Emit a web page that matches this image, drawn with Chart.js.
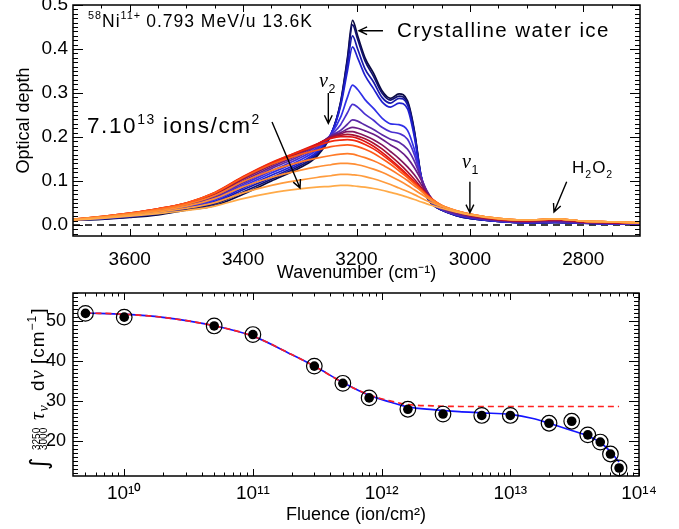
<!DOCTYPE html>
<html><head><meta charset="utf-8">
<script src="https://cdn.jsdelivr.net/npm/chart.js@4/dist/chart.umd.min.js"></script>
<style>
html,body{margin:0;padding:0;background:#fff;}
#wrap{position:relative;width:679px;height:529px;overflow:hidden;}
#c1{position:absolute;left:0;top:0;width:679px;height:285px;}
#c2{position:absolute;left:0;top:284px;width:679px;height:245px;}
</style></head><body>
<div id="wrap"><canvas id="c1" width="679" height="285"></canvas><canvas id="c2" width="679" height="245"></canvas></div>
<script>
// ---------------- DATA: top panel (optical depth spectra) ----------------
const wavenumber = [3700,3650,3600,3550,3500,3450,3400,3350,3300,3270,3245,3228,3216,3207,3198,3185,3170,3155,3140,3125,3110,3098,3087,3076,3066,3050,3025,3000,2950,2900,2850,2800,2750,2700];
const od_5e9    = [0.011,0.013,0.017,0.023,0.034,0.044,0.07,0.1,0.13,0.156,0.205,0.28,0.38,0.465,0.43,0.38,0.345,0.305,0.288,0.298,0.282,0.215,0.118,0.064,0.047,0.034,0.022,0.015,0.008,0.005,0.006,0.004,0.003,0.002];
const od_1e10   = [0.011,0.014,0.018,0.025,0.036,0.048,0.075,0.104,0.134,0.16,0.205,0.278,0.375,0.455,0.422,0.373,0.338,0.3,0.284,0.293,0.278,0.212,0.117,0.064,0.047,0.034,0.022,0.015,0.008,0.005,0.006,0.004,0.003,0.002];
const od_5e10   = [0.012,0.014,0.019,0.026,0.038,0.051,0.08,0.108,0.138,0.163,0.206,0.275,0.365,0.43,0.4,0.355,0.325,0.29,0.277,0.288,0.273,0.208,0.116,0.065,0.047,0.034,0.022,0.015,0.008,0.005,0.006,0.004,0.003,0.002];
const od_1e11   = [0.012,0.015,0.02,0.027,0.039,0.054,0.084,0.113,0.142,0.166,0.207,0.27,0.35,0.405,0.38,0.34,0.31,0.28,0.268,0.277,0.264,0.2,0.115,0.066,0.048,0.035,0.023,0.016,0.008,0.005,0.006,0.004,0.003,0.002];
const od_3e11   = [0.012,0.015,0.021,0.029,0.041,0.057,0.088,0.118,0.147,0.171,0.206,0.245,0.29,0.318,0.308,0.285,0.265,0.243,0.23,0.228,0.215,0.172,0.115,0.07,0.051,0.036,0.024,0.017,0.009,0.006,0.007,0.005,0.003,0.003];
const od_5e11   = [0.012,0.016,0.022,0.03,0.043,0.06,0.092,0.123,0.152,0.175,0.204,0.228,0.255,0.274,0.268,0.252,0.238,0.222,0.212,0.208,0.195,0.16,0.113,0.075,0.054,0.036,0.024,0.017,0.009,0.006,0.007,0.005,0.003,0.003];
const od_8e11   = [0.012,0.016,0.023,0.032,0.045,0.063,0.096,0.128,0.157,0.179,0.203,0.215,0.229,0.239,0.236,0.227,0.217,0.205,0.195,0.188,0.172,0.145,0.11,0.078,0.057,0.037,0.025,0.018,0.01,0.007,0.008,0.005,0.004,0.003];
const od_1p6e12 = [0.012,0.017,0.024,0.033,0.046,0.066,0.1,0.132,0.161,0.181,0.202,0.21,0.218,0.222,0.22,0.214,0.206,0.195,0.182,0.17,0.152,0.13,0.105,0.077,0.058,0.039,0.027,0.019,0.011,0.007,0.009,0.006,0.004,0.003];
const od_3e12   = [0.012,0.018,0.025,0.035,0.048,0.069,0.104,0.136,0.164,0.183,0.2,0.207,0.212,0.212,0.209,0.203,0.194,0.182,0.167,0.151,0.132,0.114,0.094,0.073,0.058,0.042,0.03,0.022,0.012,0.009,0.012,0.007,0.005,0.004];
const od_6e12   = [0.012,0.018,0.026,0.036,0.049,0.071,0.107,0.139,0.166,0.183,0.199,0.204,0.206,0.205,0.202,0.196,0.186,0.173,0.157,0.14,0.121,0.104,0.087,0.07,0.057,0.042,0.03,0.022,0.012,0.009,0.012,0.007,0.005,0.004];
const od_1e13   = [0.012,0.019,0.027,0.037,0.05,0.073,0.109,0.141,0.168,0.184,0.197,0.201,0.201,0.2,0.197,0.19,0.179,0.165,0.149,0.132,0.114,0.098,0.083,0.068,0.056,0.043,0.031,0.023,0.013,0.01,0.013,0.008,0.006,0.004];
const od_2e13   = [0.013,0.019,0.027,0.037,0.05,0.074,0.11,0.142,0.167,0.18,0.19,0.193,0.194,0.193,0.19,0.183,0.173,0.16,0.145,0.129,0.112,0.097,0.083,0.069,0.058,0.044,0.032,0.024,0.014,0.011,0.014,0.009,0.007,0.005];
const od_3e13   = [0.013,0.019,0.027,0.037,0.05,0.073,0.108,0.138,0.16,0.17,0.178,0.181,0.182,0.181,0.178,0.172,0.163,0.151,0.138,0.123,0.108,0.094,0.081,0.068,0.058,0.045,0.033,0.025,0.015,0.011,0.014,0.009,0.007,0.005];
const od_4e13   = [0.013,0.019,0.026,0.035,0.047,0.067,0.099,0.124,0.143,0.152,0.158,0.161,0.162,0.161,0.158,0.153,0.146,0.137,0.126,0.114,0.101,0.089,0.078,0.066,0.057,0.045,0.033,0.025,0.015,0.011,0.014,0.009,0.007,0.005];
const od_5e13   = [0.012,0.018,0.024,0.032,0.043,0.06,0.087,0.108,0.124,0.132,0.137,0.14,0.14,0.139,0.137,0.133,0.127,0.12,0.111,0.101,0.09,0.08,0.071,0.062,0.054,0.044,0.033,0.025,0.015,0.011,0.014,0.009,0.007,0.005];
const od_6e13   = [0.012,0.017,0.022,0.029,0.038,0.051,0.073,0.09,0.102,0.108,0.112,0.115,0.115,0.114,0.113,0.11,0.105,0.099,0.092,0.084,0.076,0.069,0.062,0.055,0.05,0.042,0.032,0.024,0.015,0.011,0.014,0.009,0.007,0.005];
const od_7e13   = [0.011,0.015,0.02,0.026,0.033,0.043,0.06,0.073,0.082,0.086,0.088,0.09,0.09,0.089,0.088,0.086,0.083,0.079,0.074,0.069,0.063,0.058,0.053,0.048,0.044,0.038,0.03,0.023,0.014,0.011,0.014,0.009,0.007,0.005];
const spectra = [od_5e9,od_1e10,od_5e10,od_1e11,od_3e11,od_5e11,od_8e11,od_1p6e12,od_3e12,od_6e12,od_1e13,od_2e13,od_3e13,od_4e13,od_5e13,od_6e13,od_7e13];
const wnTicks = [3600,3400,3200,3000,2800];
const odTicks = [0.0,0.1,0.2,0.3,0.4,0.5];

// ---------------- DATA: bottom panel (integrated band vs fluence) ----------------
const fluence    = [5e9,1e10,5e10,1e11,3e11,5e11,8e11,1.6e12,3e12,6e12,1e13,2e13,3e13,4e13,5e13,6e13,7e13];
const bandArea   = [51.9,50.95,48.75,46.6,38.7,34.4,30.75,27.9,26.7,26.35,26.35,24.4,24.9,21.5,19.7,16.7,13.2];
const fitFluence = [5e9,1e10,2e10,5e10,1e11,2e11,3e11,5e11,8e11,1.2e12,1.6e12,2.5e12,4e12,6e12,1e13,1.5e13,2e13,3e13,4e13,5e13,6e13,7e13];
const fitTwoComp = [52.0,51.7,50.9,48.8,46.2,41.6,38.7,34.6,31.4,29.6,28.5,27.8,27.3,27.0,26.6,25.6,24.4,22.6,21.2,19.6,17.3,14.7];
const fitOneComp = [52.0,51.7,50.9,48.8,46.2,41.6,38.7,34.6,31.5,29.9,29.1,28.75,28.6,28.6,28.6,28.6,28.6,28.6,28.6,28.6,28.6,28.6];
const fluenceTicks = [1e10,1e11,1e12,1e13,1e14];
const fluenceTickLabels = ['10¹⁰','10¹¹','10¹²','10¹³','10¹⁴'];
const areaTicks = [20,30,40,50];

// ---------------- styles ----------------
const SANS = '"Liberation Sans", Arial, Helvetica, sans-serif';
const SERIF = '"Liberation Serif", "Times New Roman", serif';
const spectrumColors = ['#0a0a40','#10106e','#1818a8','#2020d0','#3030e8','#4a30d0','#5a2aa8','#6a1e88','#82165e','#a81030','#dc1414','#f02a10','#ff5a18','#ff7a28','#ff8e34','#ff9c3e','#ffaa48'];

function drawRich(ctx, x, y, parts, size, family, spacing) {
  ctx.save();
  ctx.fillStyle = '#000';
  ctx.textAlign = 'left';
  ctx.textBaseline = 'alphabetic';
  try { ctx.letterSpacing = (spacing || 0) + 'px'; } catch (e) {}
  let cx = x;
  for (const p of parts) {
    let fs = size, dy = 0;
    if (p.k === 'sup') { fs = size * 0.62; dy = -size * 0.42; }
    if (p.k === 'sub') { fs = size * 0.62; dy = size * 0.3; }
    ctx.font = (p.style || '') + ' ' + fs + 'px ' + (p.family || family);
    ctx.fillText(p.t, cx, y + dy);
    cx += ctx.measureText(p.t).width + (p.gap || 0);
  }
  ctx.restore();
}
function arrow(ctx, x1, y1, x2, y2) {
  const a = Math.atan2(y2 - y1, x2 - x1), L = 9, w = 0.45;
  ctx.save();
  ctx.strokeStyle = '#000'; ctx.lineWidth = 1.4;
  ctx.beginPath();
  ctx.moveTo(x1, y1); ctx.lineTo(x2, y2);
  ctx.moveTo(x2 - L * Math.cos(a - w), y2 - L * Math.sin(a - w)); ctx.lineTo(x2, y2);
  ctx.lineTo(x2 - L * Math.cos(a + w), y2 - L * Math.sin(a + w));
  ctx.stroke();
  ctx.restore();
}
function makeFrame(id, cfg) {
  return {
    id: id,
    afterDatasetsDraw(chart) {
      const {ctx, chartArea: a, scales: {x, y}} = chart;
      ctx.save();
      ctx.strokeStyle = '#000';
      ctx.lineWidth = 1;
      ctx.beginPath();
      const xt = (v, len) => { const p = Math.round(x.getPixelForValue(v)) + 0.5; ctx.moveTo(p, a.bottom); ctx.lineTo(p, a.bottom - len); ctx.moveTo(p, a.top); ctx.lineTo(p, a.top + len); };
      const yt = (v, len) => { const p = Math.round(y.getPixelForValue(v)) + 0.5; ctx.moveTo(a.left, p); ctx.lineTo(a.left + len, p); ctx.moveTo(a.right, p); ctx.lineTo(a.right - len, p); };
      cfg.xMajor.forEach(v => xt(v, 7));
      cfg.xMinor.forEach(v => xt(v, 3.5));
      cfg.yMajor.forEach(v => yt(v, 10));
      cfg.yMinor.forEach(v => yt(v, 5));
      ctx.stroke();
      ctx.lineWidth = 1.5;
      ctx.strokeRect(a.left, a.top, a.right - a.left, a.bottom - a.top);
      ctx.restore();
    }
  };
}

// ---------------- top chart ----------------
const topXMinor = []; for (let v = 2750; v < 3700; v += 50) if (v % 200 !== 0) topXMinor.push(v);
const topYMinor = []; for (let i = -2; i <= 50; i++) if (i % 10 !== 0) topYMinor.push(i / 100);

const topDatasets = spectra.map((s, i) => ({
  data: s.map((v, j) => ({x: wavenumber[j], y: v})),
  borderColor: spectrumColors[i],
  borderWidth: 1.7,
  pointRadius: 0,
  cubicInterpolationMode: 'monotone',
  order: spectra.length - i
}));
topDatasets.push({
  data: [{x: 3700, y: 0}, {x: 2700, y: 0}],
  borderColor: '#000', borderWidth: 1.4, borderDash: [7, 5], pointRadius: 0, order: 100
});

const topAnnot = {
  id: 'topAnnot',
  afterDatasetsDraw(chart) {
    const {ctx, scales: {x, y}} = chart;
    const P = (wn, od) => [x.getPixelForValue(wn), y.getPixelForValue(od)];
    let p, q;
    p = P(3673.5, 0.4507);
    drawRich(ctx, p[0], p[1], [{t: '58', k: 'sup'}, {t: 'Ni'}, {t: '11+', k: 'sup', gap: 5}, {t: '0.793 MeV/u 13.6K'}], 17.5, SANS, 1);
    p = P(3128.6, 0.428);
    drawRich(ctx, p[0], p[1], [{t: 'Crystalline water ice'}], 20.5, SANS, 1.4);
    p = P(3153.3, 0.4416); q = P(3195.6, 0.4416); arrow(ctx, p[0], p[1], q[0], q[1]);
    p = P(3675.3, 0.2084);
    drawRich(ctx, p[0], p[1], [{t: '7.10'}, {t: '13', k: 'sup', gap: 7}, {t: 'ions/cm'}, {t: '2', k: 'sup'}], 22.5, SANS, 1.6);
    p = P(3349, 0.234); q = P(3299.6, 0.084); arrow(ctx, p[0], p[1], q[0], q[1]);
    p = P(3266, 0.3136);
    drawRich(ctx, p[0], p[1], [{t: 'ν', style: 'italic', family: SERIF}, {t: '2', k: 'sub'}], 20, SANS, 0.5);
    p = P(3249.7, 0.3); q = P(3249.7, 0.231); arrow(ctx, p[0], p[1], q[0], q[1]);
    p = P(3013.9, 0.1295);
    drawRich(ctx, p[0], p[1], [{t: 'ν', style: 'italic', family: SERIF}, {t: '1', k: 'sub'}], 20, SANS, 0.5);
    p = P(3000, 0.0984); q = P(3000, 0.028); arrow(ctx, p[0], p[1], q[0], q[1]);
    p = P(2819.9, 0.1182);
    drawRich(ctx, p[0], p[1], [{t: 'H'}, {t: '2', k: 'sub'}, {t: 'O'}, {t: '2', k: 'sub'}], 17, SANS, 1);
    p = P(2829.3, 0.0984); q = P(2851.7, 0.0295); arrow(ctx, p[0], p[1], q[0], q[1]);
  }
};

new Chart(document.getElementById('c1'), {
  type: 'line',
  data: {datasets: topDatasets},
  options: {
    responsive: false, animation: false, devicePixelRatio: 1,
    layout: {padding: {left: 0, right: 39, top: 5, bottom: 0}},
    plugins: {legend: {display: false}, tooltip: {enabled: false}},
    scales: {
      x: {
        type: 'linear', min: 2700, max: 3700, reverse: true,
        grid: {display: false, drawTicks: false}, border: {display: false},
        afterBuildTicks: s => { s.ticks = wnTicks.map(v => ({value: v})); },
        afterFit: s => { s.height = 49; s.paddingLeft = 0; s.paddingRight = 0; },
        ticks: {padding: 12, color: '#000', font: {family: SANS, size: 19}, maxRotation: 0, autoSkip: false, callback: v => String(v)},
        title: {display: true, text: 'Wavenumber (cm⁻¹)', color: '#000', font: {family: SANS, size: 18}, padding: {top: 0, bottom: 1}}
      },
      y: {
        type: 'linear', min: -0.025, max: 0.5,
        grid: {display: false, drawTicks: false}, border: {display: false},
        afterBuildTicks: s => { s.ticks = odTicks.map(v => ({value: v})); },
        afterFit: s => { s.width = 73; s.paddingTop = 0; s.paddingBottom = 0; },
        ticks: {padding: 5, color: '#000', font: {family: SANS, size: 19}, autoSkip: false, callback: v => v.toFixed(1)},
        title: {display: true, text: 'Optical depth', color: '#000', font: {family: SANS, size: 18}, padding: {top: 13, bottom: 0}}
      }
    }
  },
  plugins: [makeFrame('frameTop', {xMajor: wnTicks, xMinor: topXMinor, yMajor: odTicks, yMinor: topYMinor}), topAnnot]
});

// ---------------- bottom chart ----------------
const botXMinor = [];
for (let d = 9; d <= 13; d++) for (let k = 2; k <= 9; k++) { const v = k * Math.pow(10, d); if (v > 4e9 && v < 1e14) botXMinor.push(v); }
const botYMinor = []; for (let v = 12; v <= 57; v++) if (v % 10 !== 0) botYMinor.push(v);

const botTitle = {
  id: 'botTitle',
  afterDraw(chart) {
    const ctx = chart.ctx;
    ctx.save();
    ctx.translate(44, 186);
    ctx.rotate(-Math.PI / 2);
    ctx.fillStyle = '#000';
    ctx.textBaseline = 'alphabetic';
    ctx.textAlign = 'left';
    const put = (t, u, v, font) => { ctx.font = font; ctx.fillText(t, u, v); return u + ctx.measureText(t).width; };
    put('∫', 0, 3, '24px "DejaVu Sans", ' + SANS);
    put('3250', 20, -4, '10px ' + SANS);
    put('3000', 20, 3, '10px ' + SANS);
    let u = put('τ', 50, 0, 'italic 21px ' + SERIF);
    put('ν', u + 1, 4, 'italic 14px ' + SERIF);
    u = put('d', 79, 0, '19px ' + SANS);
    put('ν', u + 1, 0, 'italic 21px ' + SERIF);
    try { ctx.letterSpacing = '1px'; } catch (e) {}
    u = put('[cm', 106, 0, '19px ' + SANS);
    u = put('−1', u, -8, '12px ' + SANS);
    put(']', u + 1, 0, '19px ' + SANS);
    ctx.restore();
  }
};

new Chart(document.getElementById('c2'), {
  type: 'line',
  data: {
    datasets: [
      {data: fitFluence.map((f, i) => ({x: f, y: fitTwoComp[i]})), borderColor: '#1414ff', borderWidth: 1.7, pointRadius: 0, cubicInterpolationMode: 'monotone', order: 3},
      {data: fitFluence.map((f, i) => ({x: f, y: fitOneComp[i]})), borderColor: '#ff2020', borderWidth: 1.7, borderDash: [6, 4], pointRadius: 0, cubicInterpolationMode: 'monotone', order: 2},
      {data: fluence.map((f, i) => ({x: f, y: bandArea[i]})), showLine: false, pointRadius: 7.8, pointBorderWidth: 1.2, pointBorderColor: '#000', pointBackgroundColor: 'rgba(0,0,0,0)', clip: false, order: 1},
      {data: fluence.map((f, i) => ({x: f, y: bandArea[i]})), showLine: false, pointRadius: 4.8, pointBorderWidth: 0, pointBackgroundColor: '#000', clip: false, order: 0}
    ]
  },
  options: {
    responsive: false, animation: false, devicePixelRatio: 1,
    layout: {padding: {left: 0, right: 40, top: 5, bottom: 0}},
    plugins: {legend: {display: false}, tooltip: {enabled: false}},
    scales: {
      x: {
        type: 'logarithmic', min: 4e9, max: 1e14,
        grid: {display: false, drawTicks: false}, border: {display: false},
        afterBuildTicks: s => { s.ticks = fluenceTicks.map(v => ({value: v})); },
        afterFit: s => { s.height = 53; s.paddingLeft = 0; s.paddingRight = 0; },
        ticks: {padding: 6, color: '#000', font: {family: SANS, size: 19}, maxRotation: 0, autoSkip: false, callback: (v, i) => fluenceTickLabels[i]},
        title: {display: true, text: 'Fluence (ion/cm²)', color: '#000', font: {family: SANS, size: 18}, padding: {top: 0, bottom: 3}}
      },
      y: {
        type: 'linear', min: 11.2, max: 57,
        grid: {display: false, drawTicks: false}, border: {display: false},
        afterBuildTicks: s => { s.ticks = areaTicks.map(v => ({value: v})); },
        afterFit: s => { s.width = 73; s.paddingTop = 0; s.paddingBottom = 0; },
        ticks: {padding: 7, color: '#000', font: {family: SANS, size: 18}, autoSkip: false, callback: v => String(v)},
        title: {display: false}
      }
    }
  },
  plugins: [makeFrame('frameBot', {xMajor: fluenceTicks, xMinor: botXMinor, yMajor: areaTicks, yMinor: botYMinor}), botTitle]
});
</script>
</body></html>
